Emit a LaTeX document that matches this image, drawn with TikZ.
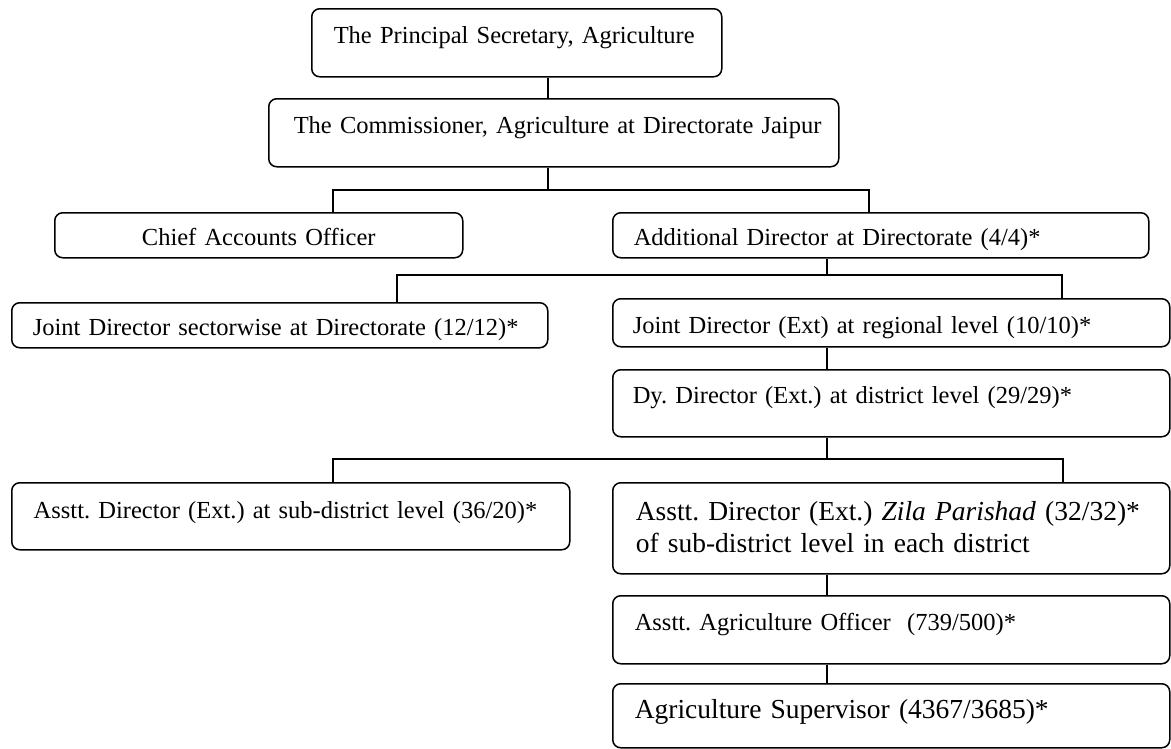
\documentclass[tikz,border=0pt]{standalone}
\usepackage{fontspec}
\setmainfont{Liberation Serif}
\frenchspacing

\begin{document}
\begin{tikzpicture}[x=1pt, y=-1pt, line width=1.5pt,
      every node/.style = {shape=rectangle, rounded corners=8pt,
        draw, anchor=north west, inner ysep=0pt, align=left,
        font=\fontsize{24.5}{30}\selectfont},
      big/.style = {font=\fontsize{27.5}{32}\selectfont},
      boxdim/.style n args = {4}{inner xsep=#1, text width=#2,
        text height=#3, text depth=#4}]
  \useasboundingbox (0,0) rectangle (1171,748);

  % top of the chart
  \node[boxdim={22pt}{366pt}{35pt}{33pt}] (sec) at (311,8)
    {\mbox{The Principal Secretary, Agriculture}};
  \node[boxdim={25pt}{520pt}{35pt}{33pt}] (comm) at (268,98)
    {\mbox{The Commissioner, Agriculture at Directorate Jaipur}};
  \node[boxdim={10pt}{388pt}{33pt}{12pt}, align=center] (cao) at (54,212)
    {\mbox{Chief Accounts Officer}};
  \node[boxdim={21pt}{494pt}{33pt}{12pt}] (addl) at (612,212)
    {\mbox{Additional Director at Directorate (4/4)*}};

  % directorate and regions
  \node[boxdim={21pt}{494pt}{33pt}{12pt}] (jds) at (11,302)
    {\mbox{Joint Director sectorwise at Directorate (12/12)*}};
  \node[boxdim={20pt}{517pt}{35pt}{13pt}] (jdx) at (612,298)
    {\mbox{Joint Director (Ext) at regional level (10/10)*}};
  \node[boxdim={20pt}{517pt}{34pt}{33pt}] (dy) at (612,369)
    {\mbox{Dy. Director (Ext.) at district level (29/29)*}};

  % district and below
  \node[boxdim={22pt}{514pt}{36pt}{31pt}] (ad) at (11,482)
    {\mbox{Asstt. Director (Ext.) at sub-district level (36/20)*}};
  \node[big, boxdim={23pt}{511pt}{38pt}{53pt}] (zila) at (612,482)
    {\mbox{Asstt. Director (Ext.) \textit{Zila Parishad} (32/32)*}\\
     \mbox{of sub-district level in each district}};
  \node[boxdim={22pt}{513pt}{35pt}{33pt}] (aao) at (612,595)
    {\mbox{Asstt. Agriculture Officer\ \ (739/500)*}};
  \node[big, boxdim={22pt}{513pt}{35pt}{29pt}] (sup) at (612,683)
    {\mbox{Agriculture Supervisor (4367/3685)*}};

  % branch points
  \coordinate (top) at (548,190);
  \coordinate (d-cao) at (333,190);
  \coordinate (d-addl) at (869,190);
  \coordinate (spine) at (827,275);
  \coordinate (d-jds) at (397,275);
  \coordinate (d-jdx) at (1062,275);
  \coordinate (mid) at (827,459);
  \coordinate (d-ad) at (333,459);
  \coordinate (d-zila) at (1063,459);

  \draw (top |- sec.south) -- (top |- comm.north);
  \draw (top |- comm.south) -- (top);
  \draw (d-cao |- cao.north) -- (d-cao) -- (d-addl) -- (d-addl |- addl.north);
  \draw (spine |- addl.south) -- (spine);
  \draw (d-jds |- jds.north) -- (d-jds) -- (d-jdx) -- (d-jdx |- jdx.north);
  \draw (spine |- jdx.south) -- (spine |- dy.north);
  \draw (mid |- dy.south) -- (mid);
  \draw (d-ad |- ad.north) -- (d-ad) -- (d-zila) -- (d-zila |- zila.north);
  \draw (mid |- zila.south) -- (mid |- aao.north);
  \draw (mid |- aao.south) -- (mid |- sup.north);
\end{tikzpicture}
\end{document}
